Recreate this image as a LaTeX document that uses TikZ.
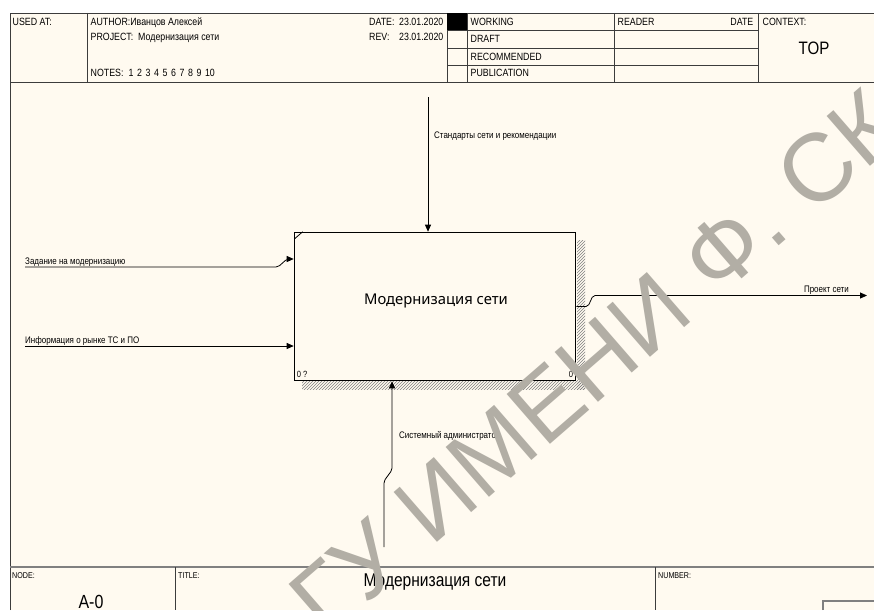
\documentclass[tikz,border=0pt]{standalone}
\usepackage{fontspec}
\setmainfont{Liberation Sans}
\newfontfamily\narrowfont[FakeStretch=0.84]{Liberation Sans}
\newfontfamily\boxfont{Noto Sans}
\usetikzlibrary{patterns,arrows.meta,calc}
\definecolor{paper}{RGB}{255,250,240}
\definecolor{frameline}{RGB}{60,60,60}
\definecolor{wmgray}{RGB}{178,174,165}

\begin{document}
\begin{tikzpicture}[x=1pt, y=-1pt,
  hdr/.style={anchor=base west, inner sep=0pt, font=\narrowfont\fontsize{10.5}{11}\selectfont},
  lbl/.style={anchor=base west, inner sep=0pt, font=\narrowfont\fontsize{9.5}{10}\selectfont},
  arr/.style={-{Triangle[length=7pt,width=6pt]}, line width=0.8pt, rounded corners=2pt}]
  \fill[white] (0,0) rectangle (874,610);
  \fill[paper] (10,13) rectangle (874,610);
  \useasboundingbox (0,0) rectangle (874,610);
  % frame and header
  \draw[frameline, line width=0.9pt] (10,610) -- (10,13) -- (874,13);
  \draw[frameline, line width=0.9pt] (10,82) -- (874,82);
  \foreach \x in {87,447,467,614,758} \draw[frameline, line width=0.9pt] (\x,13) -- (\x,82);
  \foreach \y in {30.5,48,65.5} \draw[frameline, line width=0.9pt] (447,\y) -- (758,\y);
  \fill[black] (447,13) rectangle (467,30.5);
  \node[hdr] (usedat) at (12.5,26) {USED AT:};
  \node[hdr] (author) at (90.5,26) {AUTHOR:Иванцов Алексей};
  \node[hdr] (project) at (90.5,41) {PROJECT:\ \ Модернизация сети};
  \node[hdr] (notes) at (90.5,76.7) {NOTES:\hspace{5pt}1\hspace{3.6pt}2\hspace{3.6pt}3\hspace{3.6pt}4\hspace{3.6pt}5\hspace{3.6pt}6\hspace{3.6pt}7\hspace{3.6pt}8\hspace{3.6pt}9\hspace{3.6pt}10};
  \node[hdr] (date) at (369,26) {DATE:};
  \node[hdr] (dateval) at (399,26) {23.01.2020};
  \node[hdr] (rev) at (369,41) {REV:};
  \node[hdr] (revval) at (399,41) {23.01.2020};
  \node[hdr] (working) at (470.5,25.5) {WORKING};
  \node[hdr] (draft) at (470.5,42.7) {DRAFT};
  \node[hdr] (recommended) at (470.5,60) {RECOMMENDED};
  \node[hdr] (publication) at (470.5,76.7) {PUBLICATION};
  \node[hdr] (reader) at (617.5,25.5) {READER};
  \node[hdr, anchor=base east] (readerdate) at (753.5,25.5) {DATE};
  \node[hdr] (context) at (762.5,25.5) {CONTEXT:};
  \node[anchor=base, inner sep=0pt, font=\narrowfont\fontsize{18}{20}\selectfont] (top) at (814,55) {TOP};
  % footer
  \draw[gray, line width=1.5pt] (10,567) -- (874,567);
  \foreach \x in {175,655} \draw[frameline, line width=0.9pt] (\x,567) -- (\x,610);
  \draw[gray, line width=1.2pt] (823,610) -- (823,601) -- (874,601);
  \node[hdr, font=\narrowfont\fontsize{8.5}{9}\selectfont] (nodelbl) at (12,578) {NODE:};
  \node[hdr, font=\narrowfont\fontsize{8.5}{9}\selectfont] (titlelbl) at (178,578) {TITLE:};
  \node[hdr, font=\narrowfont\fontsize{8.5}{9}\selectfont] (numberlbl) at (658,578) {NUMBER:};
  \node[anchor=base, inner sep=0pt, font=\narrowfont\fontsize{19}{20}\selectfont] (nodeid) at (91,608) {A-0};
  \node[anchor=base, inner sep=0pt, font=\narrowfont\fontsize{18.5}{20}\selectfont] (titletext) at (435,586) {Модернизация сети};
  % activity box
  \fill[pattern=north east lines, pattern color=gray] (577,240) rectangle (585,389);
  \fill[pattern=north east lines, pattern color=gray] (302,381) rectangle (585,389);
  \node[draw, fill=paper, line width=1.6pt, minimum width=281pt, minimum height=148pt, inner sep=0pt] (modern) at (435,306.5) {};
  \node[inner sep=0pt, font=\boxfont\fontsize{14.8}{16}\selectfont] (modernlbl) at (436,301) {Модернизация сети};
  \draw[line width=0.8pt] ($(modern.north west)+(1,7)$) -- ($(modern.north west)+(9,0)$);
  \node[anchor=base west, inner sep=0pt, font=\narrowfont\fontsize{9}{10}\selectfont] (boxref) at ($(modern.south west)+(3,-4)$) {0 ?};
  \node[anchor=base east, inner sep=0pt, font=\narrowfont\fontsize{9}{10}\selectfont] (boxnum) at ($(modern.south east)+(-3,-4)$) {0};
  % arrows
  \coordinate (ctrlsrc) at (428,97);
  \draw[arr] (ctrlsrc) -- (ctrlsrc |- modern.north);
  \node[lbl] (ctrllbl) at (434,138) {Стандарты сети и рекомендации};
  \coordinate (in1src) at (25,267);
  \coordinate (in1jog) at (287,259);
  \draw[arr] (in1src) -- (278,267) -- (in1jog) -- (in1jog -| modern.west);
  \node[lbl] (in1lbl) at (25,264.5) {Задание на модернизацию};
  \coordinate (in2src) at (25,346);
  \draw[arr] (in2src) -- (in2src -| modern.west);
  \node[lbl] (in2lbl) at (25,343) {Информация о рынке ТС и ПО};
  \coordinate (outjog) at (593,295.5);
  \coordinate (outdst) at (867,295.5);
  \draw[arr] (modern.east) -- (588,306.5) -- (outjog) -- (outdst);
  \node[lbl, anchor=base east] (outlbl) at (849,292.3) {Проект сети};
  \coordinate (mechsrc) at (384,547);
  \coordinate (mechjog) at (392,470);
  \draw[arr] (mechsrc) -- (384,481) -- (mechjog) -- (mechjog |- modern.south);
  \node[lbl] (mechlbl) at (399,438) {Системный администратор};
  % watermark
  \node[rotate=41, text=wmgray, inner sep=0pt, font=\fontsize{96}{96}\selectfont] (wmark) at (595,362) {ГУ ИМЕНИ Ф. СК};
\end{tikzpicture}
\end{document}
